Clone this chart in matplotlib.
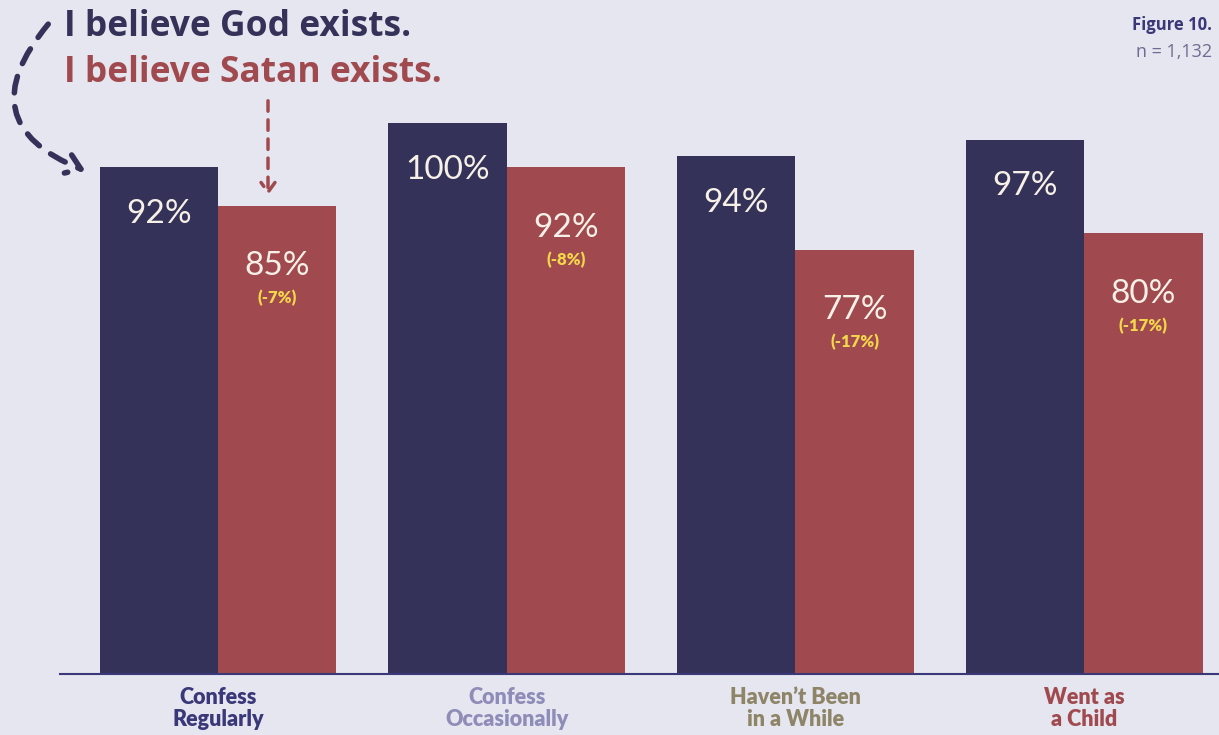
import matplotlib.pyplot as plt
from matplotlib.patches import FancyArrowPatch

# data
groups = ['Confess\nRegularly', 'Confess\nOccasionally', 'Haven\u2019t Been\nin a While', 'Went as\na Child']
god = [92, 100, 94, 97]
satan = [85, 92, 77, 80]
change = ['(-7%)', '(-8%)', '(-17%)', '(-17%)']

bg = '#e5e6ef'
navy = '#35325a'
red = '#a04a4f'
label_colors = ['#3a3878', '#8e8cb8', '#8e8468', '#a04a4f']

fig = plt.figure(figsize=(12.19, 7.35), dpi=100, facecolor=bg)
ax = fig.add_axes([60 / 1219, 61 / 735, 1159 / 1219, 551 / 735])
ax.set_facecolor(bg)

x = list(range(len(groups)))
w = 0.41
ax.bar([i - w / 2 for i in x], god, width=w, color=navy, clip_on=False)
ax.bar([i + w / 2 for i in x], satan, width=w, color=red, clip_on=False)

for i in x:
    ax.text(i - w / 2, god[i] - 8.5, f'{god[i]}%', ha='center', va='center',
            color='#f6f0e6', fontsize=24, family='Lato')
    ax.text(i + w / 2, satan[i] - 11, f'{satan[i]}%', ha='center', va='center',
            color='#f6f0e6', fontsize=24, family='Lato')
    ax.text(i + w / 2, satan[i] - 16.8, change[i], ha='center', va='center',
            color='#f2d64b', fontsize=12, family='Lato', fontweight='heavy')
    ax.text(i, -2.3, groups[i], ha='center', va='top', color=label_colors[i],
            fontsize=15.5, fontweight='heavy', linespacing=1.1, family='Lato')

ax.set_xlim(-0.547, 3.467)
ax.set_ylim(0, 100)
for s in ['top', 'right', 'left']:
    ax.spines[s].set_visible(False)
ax.spines['bottom'].set_color('#3a3878')
ax.spines['bottom'].set_linewidth(1.5)
ax.set_xticks([])
ax.set_yticks([])

# titles
fig.text(64 / 1219, 1 - 27 / 735, 'I believe God exists.', color=navy,
         fontsize=25.5, fontweight='bold', family='Open Sans', va='center')
fig.text(64 / 1219, 1 - 73 / 735, 'I believe Satan exists.', color=red,
         fontsize=25.5, fontweight='bold', family='Open Sans', va='center')
fig.text(1212 / 1219, 1 - 25 / 735, 'Figure 10.', color='#3a3878',
         fontsize=12, fontweight='bold', family='Open Sans', ha='right', va='center')
fig.text(1212 / 1219, 1 - 52 / 735, 'n = 1,132', color='#6e6c92',
         fontsize=13, family='Open Sans', ha='right', va='center')

# dashed arrows
def fpos(px, py):
    return (px / 1219, 1 - py / 735)

a1 = FancyArrowPatch(fpos(50, 22), fpos(88, 172), transform=fig.transFigure,
                     connectionstyle='arc3,rad=0.7', arrowstyle='->,head_length=10,head_width=7',
                     linestyle=(0, (3, 2.5)), linewidth=4, color=navy, capstyle='round')
fig.add_artist(a1)
a2 = FancyArrowPatch(fpos(268, 98), fpos(268, 198), transform=fig.transFigure,
                     arrowstyle='->,head_length=7,head_width=5',
                     linestyle=(0, (3, 2.5)), linewidth=2.5, color=red)
fig.add_artist(a2)

plt.savefig('out.png', dpi=100, facecolor=bg)
